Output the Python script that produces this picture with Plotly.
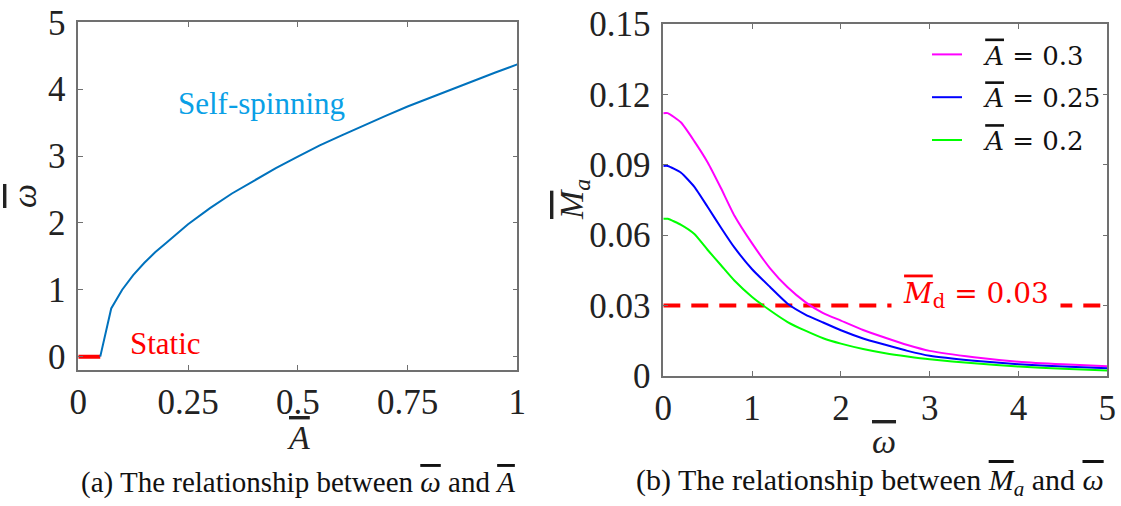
import plotly.graph_objects as go

# ---------------- data: panel (a) ----------------
A_static = [0.0, 0.05]
w_static = [0.0, 0.0]
A_spin = [0.05, 0.075, 0.1, 0.125, 0.15, 0.175, 0.2, 0.25, 0.3, 0.35, 0.4, 0.45,
          0.5, 0.55, 0.6, 0.65, 0.7, 0.75, 0.8, 0.85, 0.9, 0.95, 1.0]
w_spin = [0.0, 0.72, 1.0, 1.22, 1.4, 1.56, 1.7, 1.98, 2.22, 2.44, 2.63, 2.82,
          2.99, 3.16, 3.31, 3.46, 3.6, 3.74, 3.87, 4.0, 4.13, 4.25, 4.37]
a_xticks = [0, 0.25, 0.5, 0.75, 1]
a_xticklabels = ["0", "0.25", "0.5", "0.75", "1"]
a_yticks = [0, 1, 2, 3, 4, 5]

# ---------------- data: panel (b) ----------------
omega = [0, 0.05, 0.2, 0.35, 0.5, 0.65, 0.8, 1.0, 1.2, 1.4, 1.6, 1.8, 2.0,
         2.25, 2.5, 2.75, 3.0, 3.5, 4.0, 4.5, 5.0]
Ma_03 = [0.112, 0.112, 0.108, 0.100, 0.091, 0.080, 0.0684, 0.0565, 0.046, 0.0378,
         0.0315, 0.0268, 0.0236, 0.0196, 0.0163, 0.0132, 0.0107, 0.0080, 0.0061,
         0.0050, 0.0042]
Ma_025 = [0.0895, 0.0895, 0.0866, 0.0806, 0.072, 0.0632, 0.0548, 0.0455, 0.038,
          0.0308, 0.0262, 0.0228, 0.0195, 0.016, 0.0133, 0.0107, 0.0086, 0.0065,
          0.005, 0.0040, 0.0033]
Ma_02 = [0.067, 0.067, 0.0644, 0.0605, 0.0537, 0.0472, 0.0407, 0.0337, 0.028,
         0.023, 0.0193, 0.0161, 0.0138, 0.0115, 0.0097, 0.0083, 0.0071, 0.0054,
         0.0040, 0.0031, 0.0023]
Md = 0.03
b_xticks = [0, 1, 2, 3, 4, 5]
b_yticks = [0, 0.03, 0.06, 0.09, 0.12, 0.15]
b_yticklabels = ["0", "0.03", "0.06", "0.09", "0.12", "0.15"]
legend_labels = ["0.3", "0.25", "0.2"]

SERIF = "Liberation Serif"
MATHF = "DejaVu Serif"
FRAME = "#707070"
OL = '<span style="text-decoration:overline">{}</span>'

fig = go.Figure()

fig.add_trace(go.Scatter(x=A_static, y=w_static, mode="lines",
                         line=dict(color="#ff0000", width=4),
                         xaxis="x", yaxis="y", showlegend=False))
fig.add_trace(go.Scatter(x=A_spin, y=w_spin, mode="lines",
                         line=dict(color="#0072bd", width=2),
                         xaxis="x", yaxis="y", showlegend=False))

fig.add_trace(go.Scatter(x=[omega[0], omega[-1]], y=[Md, Md], mode="lines",
                         line=dict(color="#ff0000", width=4, dash="17px,11px"),
                         xaxis="x2", yaxis="y2", showlegend=False))
for vals, col, lab in zip([Ma_03, Ma_025, Ma_02], ["#ff00ff", "#0000ff", "#00ff00"],
                          legend_labels):
    fig.add_trace(go.Scatter(x=omega, y=vals, mode="lines",
                             line=dict(color=col, width=2, shape="spline", smoothing=0.5),
                             name="\u2002\u2009" + OL.format("<i>A</i>") + " = " + lab,
                             legendgroup=lab, xaxis="x2", yaxis="y2"))

axis_common = dict(showline=True, linecolor=FRAME, linewidth=1.5, mirror="ticks",
                   ticks="inside", ticklen=5, tickcolor=FRAME, tickwidth=1,
                   showgrid=False, zeroline=False, automargin=False,
                   tickfont=dict(family=SERIF, size=35, color="#222222"))

W, H = 1121, 506
def px(x):
    return x / W
def py(y):
    return 1 - y / H

fig.update_layout(
    width=W, height=H, margin=dict(l=0, r=0, t=0, b=0, autoexpand=False),
    paper_bgcolor="white", plot_bgcolor="white",
    xaxis=dict(domain=[px(78.3), px(517.3)], range=[0, 1], tickvals=a_xticks,
               ticktext=a_xticklabels, anchor="y", ticklabelstandoff=0, **axis_common),
    yaxis=dict(domain=[py(370), py(22.3)], range=[-0.2, 5], tickvals=a_yticks,
               anchor="x", ticklabelstandoff=4, **axis_common),
    xaxis2=dict(domain=[px(663.3), px(1107.3)], range=[0, 5], tickvals=b_xticks,
                anchor="y2", ticklabelstandoff=0, **axis_common),
    yaxis2=dict(domain=[py(376), py(24)], range=[0, 0.15], tickvals=b_yticks,
                ticktext=b_yticklabels, anchor="x2", ticklabelstandoff=4, **axis_common),
    legend=dict(x=px(927), y=py(31), xanchor="left", yanchor="top",
                bgcolor="rgba(0,0,0,0)", font=dict(family=MATHF, size=26, color="#111111"),
                tracegroupgap=6),
    showlegend=True,
)

def pann(text, x, y, size, color="#222222", angle=0, family=SERIF):
    return dict(text=text, x=px(x), y=py(y), xref="paper", yref="paper",
                xanchor="center", yanchor="middle", textangle=angle, showarrow=False,
                font=dict(family=family, size=size, color=color))

ann = []
# axis titles
ann.append(pann(OL.format("<i>A</i>"), 298, 437, 34))
ann.append(pann(OL.format("<i>ω</i>"), 24, 196, 34, angle=-90))
ann.append(pann(OL.format("<i>M</i>") + "<sub><i>a</i></sub>", 574, 200, 34, angle=-90))
ann.append(pann(OL.format("<i>ω</i>"), 884, 441, 34))
# captions
ann.append(pann("(a) The relationship between " + OL.format("<i>ω</i>") + " and " +
                OL.format("<i>A</i>"), 298, 482, 29, color="#111111"))
ann.append(pann("(b) The relationship between " + OL.format("<i>M</i>") +
                "<sub><i>a</i></sub> and " + OL.format("<i>ω</i>"), 870, 482, 30,
                color="#111111"))
# in-plot labels
ann.append(dict(text="Self-spinning", x=0.418, y=3.79, xref="x", yref="y", showarrow=False,
                xanchor="center", yanchor="middle",
                font=dict(family=SERIF, size=31, color="#0aa0e6")))
ann.append(dict(text="Static", x=0.114, y=0.2, xref="x", yref="y", xanchor="left",
                yanchor="middle", showarrow=False,
                font=dict(family=SERIF, size=31, color="#ff0000")))
ann.append(dict(text=OL.format("<i>M</i>") + "<sub>d</sub> = 0.03", x=3.52, y=0.0345,
                xref="x2", yref="y2", showarrow=False, bgcolor="white", width=168,
                height=44, borderpad=0, xanchor="center", yanchor="middle",
                font=dict(family=MATHF, size=28, color="#ff0000")))
fig.update_layout(annotations=ann)

fig.write_html("out.html", config={"displayModeBar": False},
               post_script="document.body.style.margin='0px';")
